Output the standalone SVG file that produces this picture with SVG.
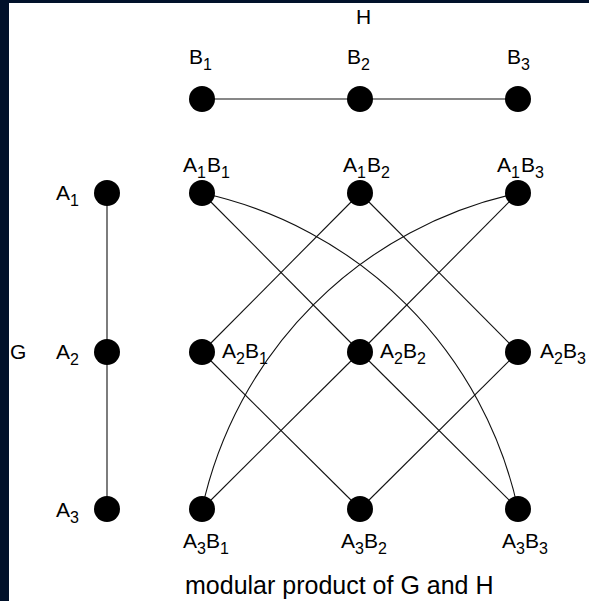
<svg xmlns="http://www.w3.org/2000/svg" width="589" height="601" viewBox="0 0 589 601">
<style>
.e{stroke:#111;stroke-width:1.1;fill:none}
.n{fill:#000}
text{font-family:"Liberation Sans",Arial,sans-serif;font-size:21px;fill:#000}
.s{font-size:16px}
.cap{font-size:25px}
</style>
<rect width="589" height="601" fill="#fff"/>
<rect x="0" y="0" width="589" height="3" fill="#01112a"/>
<rect x="0" y="0" width="9" height="601" fill="#01112a"/>
<g id="connectors">
<line class="e" x1="202" y1="99" x2="518" y2="99"/>
<line class="e" x1="107" y1="193" x2="107" y2="509"/>
<line class="e" x1="202" y1="193" x2="360" y2="352"/>
<line class="e" x1="360" y1="193" x2="202" y2="352"/>
<line class="e" x1="360" y1="193" x2="518" y2="352"/>
<line class="e" x1="518" y1="193" x2="360" y2="352"/>
<line class="e" x1="202" y1="352" x2="360" y2="509"/>
<line class="e" x1="360" y1="352" x2="202" y2="509"/>
<line class="e" x1="360" y1="352" x2="518" y2="509"/>
<line class="e" x1="518" y1="352" x2="360" y2="509"/>
<path class="e" d="M202,193 A413,413 0 0 1 518,509"/>
<path class="e" d="M518,193 A413,413 0 0 0 202,509"/>
</g>
<g id="H"><text x="356" y="24">H</text></g>
<g id="B1"><circle class="n" cx="202" cy="99" r="13"/><text x="189" y="64">B<tspan class="s" dy="6">1</tspan></text></g>
<g id="B2"><circle class="n" cx="360" cy="99" r="13"/><text x="347" y="64">B<tspan class="s" dy="6">2</tspan></text></g>
<g id="B3"><circle class="n" cx="518" cy="99" r="13"/><text x="507" y="64">B<tspan class="s" dy="6">3</tspan></text></g>
<g id="G"><text x="10" y="359">G</text></g>
<g id="A1"><circle class="n" cx="107" cy="193" r="13"/><text x="56" y="200">A<tspan class="s" dy="6">1</tspan></text></g>
<g id="A2"><circle class="n" cx="107" cy="352" r="13"/><text x="56" y="359">A<tspan class="s" dy="6">2</tspan></text></g>
<g id="A3"><circle class="n" cx="107" cy="509" r="13"/><text x="56" y="517">A<tspan class="s" dy="6">3</tspan></text></g>
<g id="A1B1"><circle class="n" cx="202" cy="193" r="13"/><text x="183" y="172">A<tspan class="s" dy="6">1</tspan><tspan dx="1" dy="-6">B</tspan><tspan class="s" dy="6">1</tspan></text></g>
<g id="A1B2"><circle class="n" cx="360" cy="193" r="13"/><text x="343" y="172">A<tspan class="s" dy="6">1</tspan><tspan dx="1" dy="-6">B</tspan><tspan class="s" dy="6">2</tspan></text></g>
<g id="A1B3"><circle class="n" cx="518" cy="193" r="13"/><text x="497" y="172">A<tspan class="s" dy="6">1</tspan><tspan dx="1" dy="-6">B</tspan><tspan class="s" dy="6">3</tspan></text></g>
<g id="A2B1"><circle class="n" cx="202" cy="352" r="13"/><text x="222" y="358">A<tspan class="s" dy="6">2</tspan><tspan dy="-6">B</tspan><tspan class="s" dy="6">1</tspan></text></g>
<g id="A2B2"><circle class="n" cx="360" cy="352" r="13"/><text x="380" y="358">A<tspan class="s" dy="6">2</tspan><tspan dy="-6">B</tspan><tspan class="s" dy="6">2</tspan></text></g>
<g id="A2B3"><circle class="n" cx="518" cy="352" r="13"/><text x="540" y="358">A<tspan class="s" dy="6">2</tspan><tspan dy="-6">B</tspan><tspan class="s" dy="6">3</tspan></text></g>
<g id="A3B1"><circle class="n" cx="202" cy="509" r="13"/><text x="183" y="548">A<tspan class="s" dy="6">3</tspan><tspan dy="-6">B</tspan><tspan class="s" dy="6">1</tspan></text></g>
<g id="A3B2"><circle class="n" cx="360" cy="509" r="13"/><text x="341" y="548">A<tspan class="s" dy="6">3</tspan><tspan dy="-6">B</tspan><tspan class="s" dy="6">2</tspan></text></g>
<g id="A3B3"><circle class="n" cx="518" cy="509" r="13"/><text x="502" y="548">A<tspan class="s" dy="6">3</tspan><tspan dy="-6">B</tspan><tspan class="s" dy="6">3</tspan></text></g>
<g id="caption"><text class="cap" x="185" y="594">modular product of G and H</text></g>
</svg>
